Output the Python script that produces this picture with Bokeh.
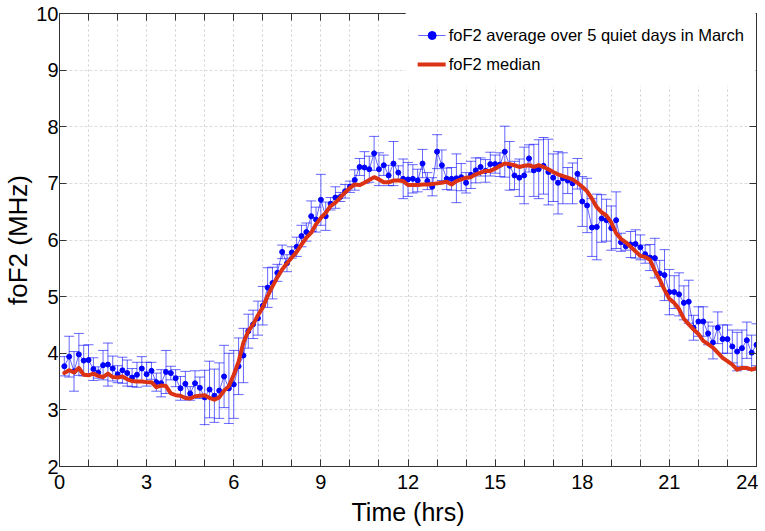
from bokeh.plotting import figure
from bokeh.models import (FixedTicker, LinearAxis, Whisker, TeeHead, ColumnDataSource,
                          Legend, LegendItem, Range1d)
from bokeh.embed import file_html
from bokeh.resources import INLINE

# ---------------- data ----------------
time_minutes = list(range(10, 1441, 10))  # 10-minute sampling over the day

fof2_avg = [
    3.77, 3.94, 3.68, 3.98, 3.87, 3.88, 3.72, 3.66, 3.79, 3.80, 3.73, 3.63,
    3.70, 3.65, 3.57, 3.62, 3.73, 3.63, 3.69, 3.49, 3.47, 3.67, 3.65, 3.56,
    3.38, 3.46, 3.29, 3.47, 3.39, 3.22, 3.36, 3.25, 3.34, 3.59, 3.38, 3.45,
    3.77, 3.96, 4.39, 4.51, 4.62, 4.84, 5.16, 5.24, 5.42, 5.79, 5.59, 5.78,
    5.88, 6.07, 6.14, 6.42, 6.36, 6.71, 6.42, 6.64, 6.75, 6.76, 6.86, 6.94,
    7.06, 7.29, 7.28, 7.25, 7.53, 7.25, 7.32, 7.14, 7.35, 7.19, 7.08, 7.07,
    7.08, 7.05, 7.35, 7.04, 6.94, 7.56, 7.32, 7.08, 7.08, 7.09, 7.11, 7.01,
    7.15, 7.23, 7.29, 7.22, 7.34, 7.34, 7.33, 7.56, 7.31, 7.14, 7.10, 7.14,
    7.44, 7.23, 7.25, 7.31, 7.20, 7.10, 7.01, 7.09, 7.05, 7.00, 7.17, 6.68,
    6.61, 6.22, 6.23, 6.38, 6.35, 6.21, 6.35, 5.96, 5.89, 5.92, 5.93, 5.87,
    5.75, 5.69, 5.68, 5.41, 5.38, 5.08, 5.08, 5.04, 4.89, 4.91, 4.45, 4.56,
    4.56, 4.35, 4.19, 4.45, 4.25, 4.25, 4.12, 4.03, 4.09, 4.23, 4.01, 4.15,
]

fof2_err = [
    0.17, 0.36, 0.35, 0.37, 0.27, 0.27, 0.20, 0.10, 0.26, 0.38, 0.22, 0.15,
    0.23, 0.23, 0.16, 0.22, 0.21, 0.21, 0.15, 0.16, 0.24, 0.38, 0.12, 0.15,
    0.21, 0.22, 0.12, 0.22, 0.19, 0.48, 0.50, 0.47, 0.49, 0.55, 0.62, 0.60,
    0.50, 0.48, 0.30, 0.25, 0.30, 0.34, 0.35, 0.28, 0.15, 0.12, 0.15, 0.10,
    0.17, 0.19, 0.16, 0.27, 0.22, 0.45, 0.25, 0.11, 0.19, 0.08, 0.12, 0.10,
    0.18, 0.15, 0.28, 0.23, 0.30, 0.29, 0.18, 0.18, 0.39, 0.12, 0.35, 0.30,
    0.25, 0.20, 0.25, 0.15, 0.16, 0.30, 0.27, 0.19, 0.20, 0.43, 0.24, 0.18,
    0.24, 0.22, 0.16, 0.20, 0.21, 0.16, 0.21, 0.45, 0.43, 0.25, 0.33, 0.50,
    0.24, 0.46, 0.52, 0.50, 0.58, 0.42, 0.55, 0.45, 0.23, 0.36, 0.27, 0.44,
    0.48, 0.51, 0.58, 0.42, 0.37, 0.39, 0.50, 0.16, 0.07, 0.23, 0.25, 0.22,
    0.16, 0.23, 0.35, 0.23, 0.45, 0.40, 0.29, 0.38, 0.30, 0.38, 0.22, 0.26,
    0.26, 0.20, 0.29, 0.28, 0.25, 0.25, 0.29, 0.34, 0.32, 0.32, 0.31, 0.37,
]

fof2_median = [
    3.65, 3.70, 3.66, 3.74, 3.62, 3.61, 3.64, 3.60, 3.58, 3.64, 3.58, 3.57,
    3.59, 3.54, 3.51, 3.50, 3.50, 3.49, 3.49, 3.40, 3.43, 3.42, 3.29, 3.26,
    3.25, 3.21, 3.20, 3.24, 3.25, 3.26, 3.21, 3.18, 3.22, 3.34, 3.42, 3.62,
    3.85, 4.19, 4.39, 4.51, 4.67, 4.81, 5.01, 5.18, 5.34, 5.48, 5.59, 5.69,
    5.79, 5.92, 6.04, 6.13, 6.28, 6.39, 6.48, 6.60, 6.66, 6.75, 6.84, 6.92,
    6.98, 6.97, 7.01, 7.06, 7.11, 7.07, 7.02, 7.02, 7.05, 7.05, 7.04, 6.97,
    6.97, 6.97, 6.98, 6.98, 6.99, 7.00, 7.01, 7.03, 6.98, 7.04, 7.07, 7.10,
    7.11, 7.16, 7.19, 7.22, 7.22, 7.26, 7.31, 7.35, 7.34, 7.32, 7.29, 7.31,
    7.32, 7.29, 7.32, 7.29, 7.25, 7.20, 7.16, 7.13, 7.10, 7.07, 7.01, 6.94,
    6.86, 6.73, 6.58, 6.49, 6.43, 6.31, 6.12, 6.02, 5.96, 5.88, 5.80, 5.72,
    5.70, 5.65, 5.46, 5.30, 5.12, 4.96, 4.89, 4.78, 4.61, 4.51, 4.42, 4.34,
    4.22, 4.16, 4.10, 4.01, 3.92, 3.86, 3.80, 3.71, 3.74, 3.74, 3.71, 3.74,
]

x_ticks = [0, 3, 6, 9, 12, 15, 18, 21, 24]
x_tick_labels = ["0", "3", "6", "9", "12", "15", "18", "21", "24"]
x_minor_ticks = list(range(0, 25))
y_ticks = [2, 3, 4, 5, 6, 7, 8, 9, 10]
y_tick_labels = ["2", "3", "4", "5", "6", "7", "8", "9", "10"]

series_avg_label = "foF2 average over 5 quiet days in March"
series_med_label = "foF2 median"

# ---------------- build ----------------
hours = [m / 60.0 for m in time_minutes]
src = ColumnDataSource(dict(
    t=hours,
    avg=fof2_avg,
    lo=[a - e for a, e in zip(fof2_avg, fof2_err)],
    hi=[a + e for a, e in zip(fof2_avg, fof2_err)],
    med=fof2_median,
))

FONT = "Liberation Sans"
AX = "#333333"

p = figure(frame_width=697, frame_height=453,
           x_range=Range1d(0, 24), y_range=Range1d(2, 10),
           output_backend="svg", toolbar_location=None,
           min_border_left=0, min_border_right=2, min_border_top=13, min_border_bottom=0,
           background_fill_color="white", border_fill_color="white")

p.outline_line_color = AX
p.outline_line_width = 1

xt = FixedTicker(ticks=x_ticks, minor_ticks=x_minor_ticks)
yt = FixedTicker(ticks=y_ticks)

for ax in p.xaxis:
    ax.ticker = xt
    ax.major_label_overrides = dict(zip(x_ticks, x_tick_labels))
for ax in p.yaxis:
    ax.ticker = yt
    ax.major_label_overrides = dict(zip(y_ticks, y_tick_labels))

p.xaxis.axis_label = "Time (hrs)"
p.yaxis.axis_label = "foF2 (MHz)"
for ax in list(p.xaxis) + list(p.yaxis):
    ax.axis_line_color = AX
    ax.major_tick_line_color = AX
    ax.minor_tick_line_color = AX
    ax.major_tick_in = 7
    ax.major_tick_out = 0
    ax.minor_tick_in = 7
    ax.minor_tick_out = 0
    ax.major_label_text_font = FONT
    ax.major_label_text_font_size = "20px"
    ax.major_label_text_color = "black"
    ax.axis_label_text_font = FONT
    ax.axis_label_text_font_style = "normal"
    ax.axis_label_text_color = "black"
p.xaxis.major_label_standoff = 8
p.xaxis.axis_label_standoff = 6
p.xaxis.axis_label_text_font_size = "25px"
p.yaxis.major_label_standoff = 1
p.yaxis.axis_label_standoff = 0
p.yaxis.axis_label_text_font_size = "26px"
p.yaxis.minor_tick_in = 0

top = LinearAxis(ticker=xt, major_label_text_color=None, major_label_text_font_size="1px",
                 major_label_standoff=0,
                 major_tick_in=7, major_tick_out=0, minor_tick_in=7, minor_tick_out=0,
                 axis_line_color=AX, major_tick_line_color=AX, minor_tick_line_color=AX)
right = LinearAxis(ticker=yt, major_label_text_color=None, major_label_text_font_size="1px",
                   major_label_standoff=0,
                   major_tick_in=7, major_tick_out=0, minor_tick_in=0, minor_tick_out=0,
                   axis_line_color=AX, major_tick_line_color=AX)
p.add_layout(top, "above")
p.add_layout(right, "right")

p.xgrid.ticker = FixedTicker(ticks=x_minor_ticks)
p.xgrid.grid_line_color = "#cfcfcf"
p.xgrid.grid_line_dash = "2 3"
p.ygrid.ticker = yt
p.ygrid.grid_line_color = "#dcdcdc"
p.ygrid.grid_line_dash = "3 2"

# error bars
whisk = Whisker(source=src, base="t", upper="hi", lower="lo",
                line_color="#0000ff", line_alpha=0.6, line_width=1,
                upper_head=TeeHead(size=10, line_color="#0000ff", line_alpha=0.6, line_width=1),
                lower_head=TeeHead(size=10, line_color="#0000ff", line_alpha=0.6, line_width=1))
p.add_layout(whisk)

avg_line = p.line("t", "avg", source=src, line_color="#0000ff", line_alpha=0.6, line_width=1)
avg_dots = p.scatter("t", "avg", source=src, marker="circle", size=5,
                     fill_color="#0000ff", line_color="#0000ff")
med_line = p.line("t", "med", source=src, line_color="#DC3214", line_width=4,
                  line_join="round", line_cap="round")

legend = Legend(items=[
    LegendItem(label=series_avg_label, renderers=[avg_line, avg_dots]),
    LegendItem(label=series_med_label, renderers=[med_line]),
], location="top_right")
legend.label_text_font = FONT
legend.label_text_font_size = "16.5px"
legend.label_text_color = "black"
legend.glyph_width = 28
legend.glyph_height = 20
legend.label_height = 20
legend.label_standoff = 3
legend.spacing = 9
legend.padding = 12
legend.margin = 0
legend.border_line_alpha = 0
legend.background_fill_color = "white"
legend.background_fill_alpha = 1.0
p.add_layout(legend)

open("out.html", "w").write(file_html(p, INLINE))
